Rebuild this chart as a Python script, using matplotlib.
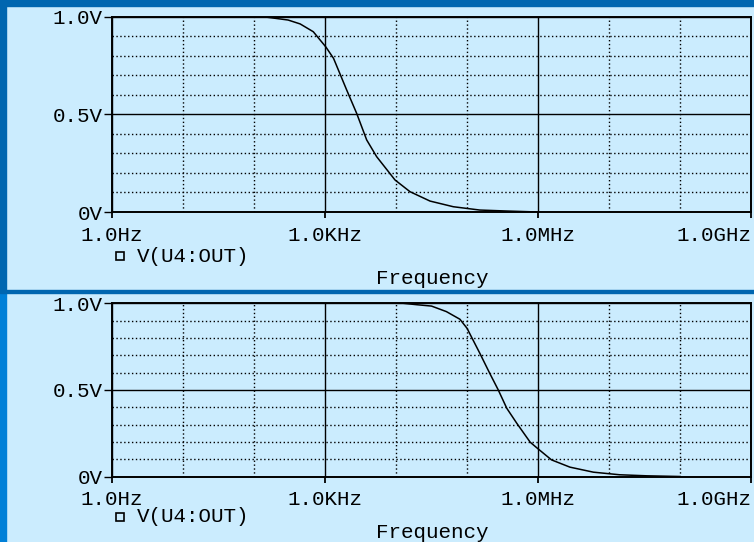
import matplotlib
matplotlib.use("Agg")
import matplotlib.pyplot as plt
from matplotlib.lines import Line2D
from matplotlib.patches import Rectangle
from matplotlib.ticker import FixedLocator, NullFormatter
import numpy as np

# ---- data ----
top_log_freq = [2.0, 2.13, 2.48, 2.65, 2.835, 3.01, 3.12, 3.305, 3.446, 3.587,
                3.728, 3.986, 4.197, 4.479, 4.807, 5.18, 5.56, 6.0]
top_volts = [1.0, 1.0, 0.983, 0.963, 0.923, 0.846, 0.787, 0.625, 0.505, 0.369,
             0.283, 0.164, 0.104, 0.056, 0.027, 0.010, 0.005, 0.0]

bot_log_freq = [4.0, 4.10, 4.29, 4.50, 4.71, 4.90, 5.00, 5.18, 5.32, 5.44, 5.56,
                5.70, 5.89, 6.00, 6.19, 6.45, 6.78, 7.15, 7.53, 8.0]
bot_volts = [1.0, 1.0, 0.992, 0.984, 0.952, 0.908, 0.856, 0.712, 0.596, 0.500,
             0.394, 0.308, 0.198, 0.160, 0.096, 0.054, 0.025, 0.010, 0.004, 0.0]

x_major = [1.0, 1e3, 1e6, 1e9]
x_major_labels = ["1.0Hz", "1.0KHz", "1.0MHz", "1.0GHz"]
x_minor = [1e1, 1e2, 1e4, 1e5, 1e7, 1e8]
y_major = [0.0, 0.5, 1.0]
y_major_labels = ["0V", "0.5V", "1.0V"]
y_minor = [0.1, 0.2, 0.3, 0.4, 0.6, 0.7, 0.8, 0.9]
trace_name = "V(U4:OUT)"
x_title = "Frequency"

W, H = 754, 542
BG = "#cbecfe"
BLUE_TOP = "#0066b0"
BLUE_LOW = "#0080d8"
FONT = "Liberation Mono"
FS = 15

fig = plt.figure(figsize=(W / 100, H / 100), dpi=100, facecolor=BG)

def px(x0, y0, x1, y1):
    # pixel box (top-left origin) -> figure fraction rect
    return [x0 / W, 1 - y1 / H, (x1 - x0) / W, (y1 - y0) / H]

# blue frame pieces
fig.patches.append(Rectangle((0, 1 - 6 / H), 1, 6 / H, transform=fig.transFigure,
                             color=BLUE_TOP, zorder=0))
fig.patches.append(Rectangle((0, 1 - 291 / H), 6 / W, 291 / H, transform=fig.transFigure,
                             color=BLUE_TOP, zorder=0))
fig.patches.append(Rectangle((0, 0), 6 / W, 1 - 291 / H, transform=fig.transFigure,
                             color=BLUE_LOW, zorder=0))
fig.patches.append(Rectangle((0, 1 - 292.5 / H), 1, 2.5 / H, transform=fig.transFigure,
                             color=BLUE_TOP, zorder=0))

panels = [
    (px(112, 16.7, 751, 212), top_log_freq, top_volts, 256, 278),
    (px(112, 303.3, 751, 476.5), bot_log_freq, bot_volts, 517, 533),
]

for rect, lf, v, leg_y, title_y in panels:
    ax = fig.add_axes(rect)
    ax.set_facecolor(BG)
    ax.set_xscale("log")
    ax.set_xlim(1, 1e9)
    ax.set_ylim(0, 1.0)
    ax.plot(10 ** np.array(lf), v, color="black", lw=1.1, zorder=3)

    ax.xaxis.set_major_locator(FixedLocator(x_major))
    ax.set_xticklabels(x_major_labels, fontfamily=FONT, fontsize=FS)
    ax.get_xticklabels()[-1].set_horizontalalignment("right")
    ax.xaxis.set_minor_locator(FixedLocator(x_minor))
    ax.xaxis.set_minor_formatter(NullFormatter())
    ax.yaxis.set_major_locator(FixedLocator(y_major))
    ax.set_yticklabels(y_major_labels, fontfamily=FONT, fontsize=FS)
    ax.yaxis.set_minor_locator(FixedLocator(y_minor))

    ax.grid(which="major", color="black", lw=1.0, ls="-")
    ax.grid(which="minor", color="black", lw=1.0, ls=(0, (1, 1.8)))
    ax.tick_params(which="minor", length=0)
    ax.tick_params(axis="x", which="major", direction="out", length=4, width=1.3, pad=6)
    ax.tick_params(axis="y", which="major", direction="out", length=6, width=1.0, pad=1)
    for s in ax.spines.values():
        s.set_linewidth(1.4)
    ax.set_axisbelow(True)

    # legend marker + trace name
    fig.add_artist(Line2D([120 / W], [1 - leg_y / H], marker="s", ms=5.5, mfc="none",
                          mec="black", mew=1.2, ls="none", transform=fig.transFigure))
    fig.text(137 / W, 1 - leg_y / H, trace_name, fontfamily=FONT, fontsize=FS,
             ha="left", va="center")
    fig.text(432 / W, 1 - title_y / H, x_title, fontfamily=FONT, fontsize=FS,
             ha="center", va="center")

fig.savefig("out.png", dpi=100, facecolor=BG)
